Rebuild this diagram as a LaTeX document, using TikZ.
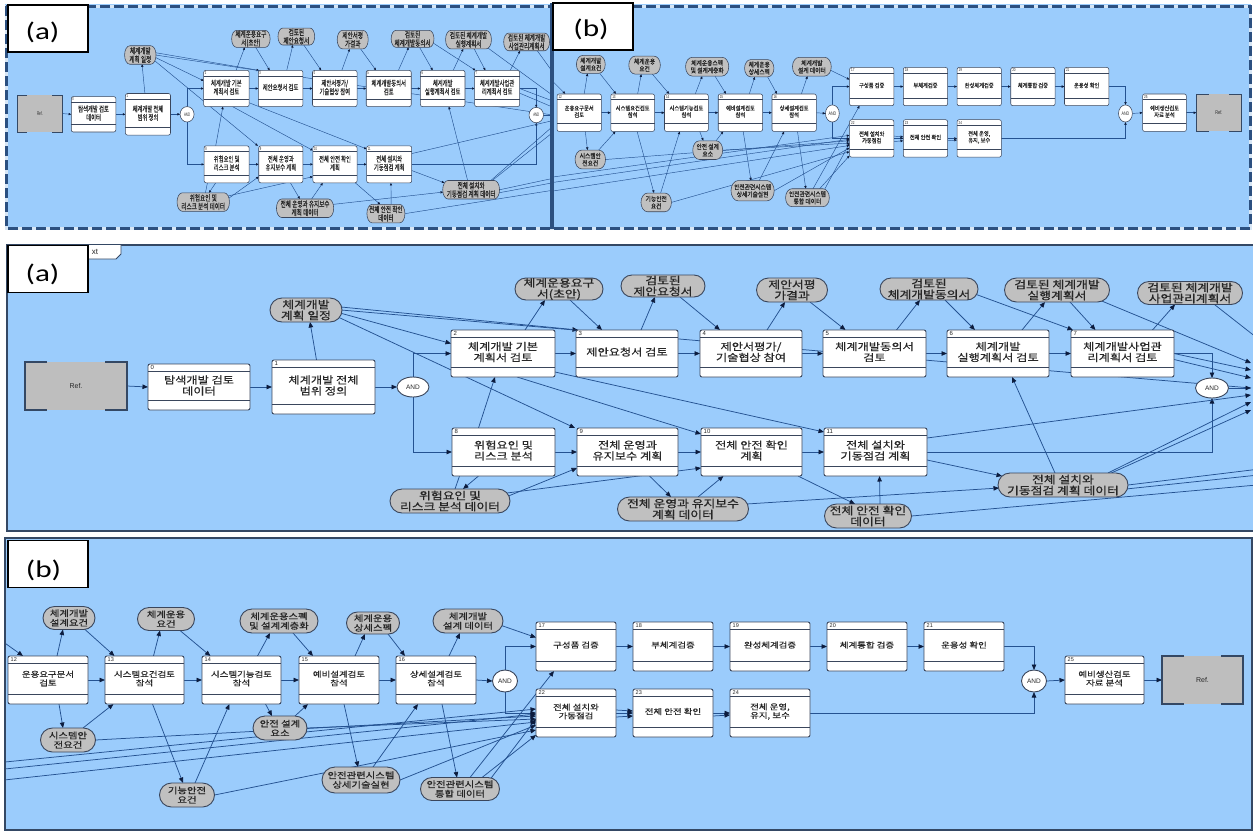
\documentclass[tikz,border=0pt]{standalone}
\usepackage{fontspec}
\usetikzlibrary{calc,shapes.misc,shapes.geometric,arrows.meta}
\newfontfamily\krfont[FakeStretch=1.22,FakeBold=0.4]{Noto Sans CJK KR}
\newfontfamily\krdata[FakeStretch=1.22,FakeBold=0.8]{Noto Sans CJK KR}
\newfontfamily\lblfont[FakeStretch=1.3]{Carlito}
\newfontfamily\tagfont{Liberation Sans}

\definecolor{panelbg}{RGB}{155,204,252}
\definecolor{framecol}{RGB}{52,72,100}
\definecolor{boxline}{RGB}{58,70,92}
\definecolor{datafill}{RGB}{192,192,192}
\definecolor{reffill}{RGB}{190,190,190}
\definecolor{wire}{RGB}{36,82,145}
\definecolor{tipcol}{RGB}{12,28,62}
\definecolor{inkcol}{RGB}{40,40,40}
\definecolor{dashdark}{RGB}{44,80,128}
\definecolor{dashlight}{RGB}{215,230,245}

\def\arrL{5.5pt}
\def\arrW{4.5pt}
\newif\ifghost

\tikzset{
  pshape/.style={rectangle, inner sep=0pt, outer sep=0pt},
  pdraw/.style={draw=boxline, fill=white, line width=0.9pt, rounded corners=2pt},
  pline/.style={draw=boxline, line width=0.7pt},
  pnum/.style={anchor=west, inner sep=0pt, text=inkcol, font=\tagfont\fontsize{6}{6}\selectfont},
  ptxt/.style={align=center, inner sep=0pt, text=inkcol, font=\krfont\fontsize{10}{11}\selectfont},
  dshape/.style={rounded rectangle, inner sep=0pt, outer sep=0pt},
  ddraw/.style={draw=boxline, fill=datafill, line width=0.9pt},
  dtxt/.style={align=center, inner sep=0pt, text=black!85, font=\krdata\fontsize{10.5}{11}\selectfont},
  ashape/.style={ellipse, inner sep=0pt, outer sep=0pt},
  adraw/.style={draw=boxline, fill=white, line width=0.9pt},
  atxt/.style={inner sep=0pt, text=inkcol, font=\tagfont\fontsize{6.5}{6.5}\selectfont},
  rshape/.style={rectangle, inner sep=0pt, outer sep=0pt},
  rline/.style={draw=framecol, line width=1.1pt},
  rtxt/.style={inner sep=0pt, text=inkcol, font=\tagfont\fontsize{7}{7}\selectfont},
  conn/.style={draw=wire, line width=0.75pt},
  arr/.style={conn, -{Triangle[length=\arrL, width=\arrW, color=tipcol]}},
  lblbox/.style={draw=black, line width=1.4pt, fill=white, minimum width=80, minimum height=47, inner sep=0pt},
  lbltxt/.style={inner sep=0pt, text=black, font=\lblfont\fontsize{24}{24}\selectfont},
  small/.style={conn/.append style={line width=0.45pt}, pdraw/.append style={line width=0.55pt},
    ddraw/.append style={line width=0.55pt}, adraw/.append style={line width=0.55pt},
    pline/.append style={line width=0.45pt}, rline/.append style={line width=0.7pt}},
}

% process box: name, x1, y1, x2, y2, number, text
\newcommand\procbox[7]{%
  \ifghost
    \node[pshape, minimum width={#4-#2}, minimum height={#5-#3}] (#1) at ({(#2+#4)/2},{(#3+#5)/2}) {};
  \else
    \node[pshape, pdraw, minimum width={#4-#2}, minimum height={#5-#3}] (#1) at ({(#2+#4)/2},{(#3+#5)/2}) {};
    \draw[pline] ($(#1.north west)+(0,7)$) -- ($(#1.north east)+(0,7)$);
    \draw[pline] ($(#1.south west)+(0,-10)$) -- ($(#1.south east)+(0,-10)$);
    \node[pnum] at ($(#1.north west)+(2.5,3.6)$) {#6};
    \node[ptxt] at ($(#1.center)+(0,-1.5)$) {#7};
  \fi}
% data object: name, cx, cy, w, h, text
\newcommand\datanode[6]{%
  \ifghost
    \node[dshape, minimum width=#4, minimum height=#5] (#1) at (#2,#3) {};
  \else
    \node[dshape, ddraw, minimum width=#4, minimum height=#5] (#1) at (#2,#3) {};
    \node[dtxt] at (#1.center) {#6};
  \fi}
% junction: name, cx, cy, w, h
\newcommand\gatenode[5]{%
  \ifghost
    \node[ashape, minimum width=#4, minimum height=#5] (#1) at (#2,#3) {};
  \else
    \node[ashape, adraw, minimum width=#4, minimum height=#5] (#1) at (#2,#3) {};
    \node[atxt] at (#1.center) {AND};
  \fi}
% referent: name, x1, y1, x2, y2
\newcommand\refnode[5]{%
  \ifghost
    \node[rshape, minimum width={#4-#2}, minimum height={#5-#3}] (#1) at ({(#2+#4)/2},{(#3+#5)/2}) {};
  \else
    \node[rshape, fill=reffill, minimum width={#4-#2}, minimum height={#5-#3}] (#1) at ({(#2+#4)/2},{(#3+#5)/2}) {};
    \draw[rline] ($(#1.north west)+(22,0)$) -- (#1.north west) -- (#1.south west) -- ($(#1.south west)+(22,0)$);
    \draw[rline] ($(#1.north east)+(-22,0)$) -- (#1.north east) -- (#1.south east) -- ($(#1.south east)+(-22,0)$);
    \node[rtxt] at (#1.center) {Ref.};
  \fi}

% ---------------- part (a) ----------------
\newcommand\nodesA{%
  \refnode{refA}{25}{362}{127}{410}
  \procbox{b0}{148}{364}{250}{410}{0}{탐색개발 검토\\데이터}
  \procbox{b1}{272}{360}{375}{414}{1}{체계개발 전체\\범위 정의}
  \gatenode{and1}{413}{387}{32}{20}
  \procbox{b2}{451}{330}{555}{377}{2}{체계개발 기본\\계획서 검토}
  \procbox{b3}{576}{330}{678}{377}{3}{제안요청서 검토}
  \procbox{b4}{700}{330}{802}{377}{4}{제안서평가/\\기술협상 참여}
  \procbox{b5}{823}{330}{926}{377}{5}{체계개발동의서\\검토}
  \procbox{b6}{947}{330}{1049}{377}{6}{체계개발\\실행계획서 검토}
  \procbox{b7}{1071}{330}{1174}{377}{7}{체계개발사업관\\리계획서 검토}
  \procbox{b8}{452}{428}{555}{476}{8}{위험요인 및\\리스크 분석}
  \procbox{b9}{577}{428}{678}{476}{9}{전체 운영과\\유지보수 계획}
  \procbox{b10}{701}{428}{802}{476}{10}{전체 안전 확인\\계획}
  \procbox{b11}{824}{428}{927}{476}{11}{전체 설치와\\기동점검 계획}
  \gatenode{and2}{1212}{388}{33}{20}
  \datanode{dPlan}{306}{310}{72}{24}{체계개발\\계획 일정}
  \datanode{dReq}{559}{289}{88}{22}{체계운용요구\\서(초안)}
  \datanode{dRfp}{663}{286}{84}{22}{검토된\\제안요청서}
  \datanode{dEval}{792}{290}{71}{24}{제안서평\\가결과}
  \datanode{dAgree}{929}{289}{98}{22}{검토된\\체계개발동의서}
  \datanode{dExec}{1057}{290}{105}{24}{검토된 체계개발\\실행계획서}
  \datanode{dMgmt}{1190}{293}{105}{23}{검토된 체계개발\\사업관리계획서}
  \datanode{dRisk}{450}{501}{120}{24}{위험요인 및\\리스크 분석 데이터}
  \datanode{dOps}{683}{509}{131}{24}{전체 운영과 유지보수\\계획 데이터}
  \datanode{dSafe}{868}{516}{87}{24}{전체 안전 확인\\데이터}
  \datanode{dInst}{1063}{485}{130}{24}{전체 설치와\\기동점검 계획 데이터}
  \coordinate (eA0) at (1275,352);
  \coordinate (eA1) at (1251,363);
  \coordinate (eA2) at (1251,370);
  \coordinate (eA3) at (1251,378);
  \coordinate (eA4) at (1251,388);
  \coordinate (eA5) at (1251,395);
  \coordinate (eA6) at (1251,402);
  \coordinate (eA7) at (1251,410);
  \coordinate (eA8) at (1268,468);
  \coordinate (eA9) at (1268,474);
  \coordinate (eA10) at (1268,484);
}
\newcommand\wiresA{%
  \draw[arr] (refA.east) -- (b0.west);
  \draw[arr] (b0.east) -- (b1.west);
  \draw[arr] (b1.east) -- (and1.west);
  \draw[arr] ($(b1.north)+(-7,0)$) -- ($(dPlan.south)+(4,0)$);
  \draw[arr] ($(dPlan.east)+(-2,3)$) -- ($(b2.west)+(0,-10)$);
  \draw[arr] ($(dPlan.east)+(-1,-3)$) -- ($(b3.north west)+(2,0)$);
  \draw[arr] ($(dPlan.east)+(-4,7)$) -- ($(b9.north west)+(-2,0)$);
  \draw[conn] ($(dPlan.east)+(-1,0)$) -- (eA4);
  \draw[arr] (and1.north) |- (b2.west);
  \draw[arr] (and1.south) |- (b8.west);
  \draw[arr] ($(b2.north)+(22,0)$) -- ($(dReq.south)+(-14,0)$);
  \draw[arr] ($(dReq.south)+(11,0)$) -- ($(b3.north)+(-25,0)$);
  \draw[arr] (b2.east) -- (b3.west);
  \draw[arr] ($(b3.north)+(14,0)$) -- ($(dRfp.south)+(-8,0)$);
  \draw[arr] ($(dRfp.south)+(17,0)$) -- ($(b4.north)+(-31,0)$);
  \draw[arr] (b3.east) -- (b4.west);
  \draw[arr] ($(b4.north)+(16,0)$) -- ($(dEval.south)+(-7,0)$);
  \draw[arr] ($(dEval.south)+(18,0)$) -- ($(b5.north)+(-29,0)$);
  \draw[arr] (b4.east) -- (b5.west);
  \draw[arr] ($(b5.north)+(22,0)$) -- ($(dAgree.south)+(-9,0)$);
  \draw[arr] ($(dAgree.south)+(16,0)$) -- ($(b6.north)+(-23,0)$);
  \draw[arr] (b5.east) -- (b6.west);
  \draw[arr] ($(b6.north)+(24,0)$) -- ($(dExec.south)+(-12,0)$);
  \draw[arr] ($(dExec.south)+(13,0)$) -- ($(b7.north)+(-27,0)$);
  \draw[arr] (b6.east) -- (b7.west);
  \draw[arr] ($(b7.north)+(30,0)$) -- ($(dMgmt.south)+(-15,0)$);
  \draw[arr] ($(dAgree.east)+(-3,5)$) -- ($(b7.north west)+(2,0)$);
  \draw[arr] ($(dExec.east)+(-15,8)$) -- (eA1);
  \draw[conn] ($(dMgmt.east)+(-30,10)$) -- (eA0);
  \draw[arr] (b7.east) -- (eA2);
  \draw[arr] ($(b7.east)+(0,6)$) -- (eA3);
  \draw[arr] (b7.east) -| (and2.north);
  \draw[arr] (and2.east) -- (eA4);
  \draw[arr] ($(b8.north)+(-25,0)$) -- ($(b2.south)+(-8,0)$);
  \draw[arr] ($(b8.south)+(-25,0)$) -- ($(dRisk.north)+(13,0)$);
  \draw[conn] ($(dRisk.north)+(5,0)$) -- ($(b8.south)+(-44,0)$);
  \draw[arr] ($(dRisk.east)+(-4,-4)$) -- ($(b9.west)+(0,16)$);
  \draw[arr] ($(dRisk.east)+(-3,-8)$) -- ($(b10.west)+(0,16)$);
  \draw[arr] (b8.east) -- (b9.west);
  \draw[arr] (b9.east) -- (b10.west);
  \draw[arr] (b10.east) -- (b11.west);
  \draw[arr] ($(b2.south)+(14,0)$) -- ($(b10.west)+(0,-18)$);
  \draw[arr] ($(b2.south east)+(0,-5)$) -- ($(b11.west)+(0,-20)$);
  \draw[arr] ($(b9.south)+(22,0)$) -- ($(dOps.north)+(-12,0)$);
  \draw[arr] ($(dOps.north)+(15,0)$) -- ($(b10.south)+(-28,0)$);
  \draw[arr] ($(dOps.east)+(-2,-5)$) -- ($(dInst.west)+(1,3)$);
  \draw[arr] ($(b10.south east)+(-4,0)$) -- ($(dSafe.north)+(-13,0)$);
  \draw[arr] ($(dSafe.north)+(12,0)$) -- ($(b11.south)+(4,0)$);
  \draw[arr] ($(b11.east)+(0,8)$) -- ($(dInst.west)+(4,-9)$);
  \draw[arr] (b11.east) -| (and2.south);
  \draw[arr] ($(b11.east)+(0,-14)$) -- (eA5);
  \draw[arr] ($(dInst.north)+(-8,0)$) -- ($(b6.south)+(14,0)$);
  \draw[arr] ($(dInst.north)+(45,0)$) -- (eA6);
  \draw[arr] ($(dInst.east)+(-30,-6)$) -- (eA7);
  \draw[conn] (dInst.east) -- (eA8);
  \draw[conn] ($(dInst.east)+(-2,4)$) -- (eA9);
  \draw[conn] (dSafe.east) -- (eA10);
}
\newcommand\contentA{\ghosttrue\nodesA\wiresA\ghostfalse\nodesA}

% ---------------- part (b) ----------------
\newcommand\nodesB{%
  \procbox{b12}{8}{656}{88}{704}{12}{운용요구문서\\검토}
  \procbox{b13}{105}{656}{184}{704}{13}{시스템요건검토\\참석}
  \procbox{b14}{202}{656}{281}{704}{14}{시스템기능검토\\참석}
  \procbox{b15}{299}{656}{379}{704}{15}{예비설계검토\\참석}
  \procbox{b16}{396}{656}{476}{704}{16}{상세설계검토\\참석}
  \gatenode{andB1}{505}{681}{25}{22}
  \procbox{b17}{536}{622}{616}{671}{17}{구성품 검증}
  \procbox{b18}{633}{622}{713}{671}{18}{부체계검증}
  \procbox{b19}{730}{622}{810}{671}{19}{완성체계검증}
  \procbox{b20}{827}{622}{907}{671}{20}{체계통합 검증}
  \procbox{b21}{924}{622}{1004}{671}{21}{운용성 확인}
  \procbox{b22}{536}{689}{616}{737}{22}{전체 설치와\\가동점검}
  \procbox{b23}{633}{689}{713}{737}{23}{전체 안전 확인}
  \procbox{b24}{730}{689}{810}{737}{24}{전체 운영,\\유지, 보수}
  \gatenode{andB2}{1034}{681}{25}{22}
  \procbox{b25}{1065}{656}{1144}{704}{25}{예비생산검토\\자료 분석}
  \refnode{refB}{1162}{656}{1243}{704}
  \datanode{dDreq}{69}{618}{52}{23}{체계개발\\설계요건}
  \datanode{dOreq}{166}{619}{57}{23}{체계운용\\요건}
  \datanode{dSpec}{279}{621}{78}{24}{체계운용스펙\\및 설계계층화}
  \datanode{dDetail}{373}{623}{53}{22}{체계운용\\상세스펙}
  \datanode{dDesign}{468}{621}{70}{24}{체계개발\\설계 데이터}
  \datanode{dSreq}{68}{740}{55}{24}{시스템안\\전요건}
  \datanode{dSdes}{280}{728}{54}{24}{안전 설계\\요소}
  \datanode{dFunc}{187}{795}{55}{24}{기능안전\\요건}
  \datanode{dSys}{361}{780}{78}{26}{안전관련시스템\\상세기술실현}
  \datanode{dInteg}{460}{789}{79}{23}{안전관련시스템\\통합 데이터}
  \coordinate (sB1) at (-5,636);
  \coordinate (sB2) at (-5,763);
  \coordinate (sB3) at (-5,770);
  \coordinate (sB4) at (-5,781);
}
\newcommand\wiresB{%
  \draw[arr] (sB1) -- ($(b12.north west)+(15,0)$);
  \draw[arr] ($(b12.north)+(9,0)$) -- ($(dDreq.south)+(-6,0)$);
  \draw[arr] ($(dDreq.south)+(16,0)$) -- ($(b13.north)+(-30,0)$);
  \draw[arr] (b12.east) -- (b13.west);
  \draw[arr] ($(b13.north)+(9,0)$) -- ($(dOreq.south)+(-6,0)$);
  \draw[arr] ($(dOreq.south)+(14,0)$) -- ($(b14.north)+(-31,0)$);
  \draw[arr] (b13.east) -- (b14.west);
  \draw[arr] ($(b14.north)+(16,0)$) -- ($(dSpec.south)+(-9,0)$);
  \draw[arr] ($(dSpec.south)+(14,0)$) -- ($(b15.north)+(-26,0)$);
  \draw[arr] (b14.east) -- (b15.west);
  \draw[arr] ($(b15.north)+(16,0)$) -- ($(dDetail.south)+(-8,0)$);
  \draw[arr] ($(dDetail.south)+(15,0)$) -- ($(b16.north)+(-31,0)$);
  \draw[arr] (b15.east) -- (b16.west);
  \draw[arr] ($(b16.north)+(13,0)$) -- ($(dDesign.south)+(-8,0)$);
  \draw[arr] ($(dDesign.east)+(-3,4)$) -- ($(b17.west)+(0,-9)$);
  \draw[arr] (b16.east) -- (andB1.west);
  \draw[arr] (andB1.north) |- (b17.west);
  \draw[arr] (andB1.south) |- (b22.west);
  \draw[arr] ($(b12.south)+(11,0)$) -- ($(dSreq.north)+(-5,0)$);
  \draw[arr] ($(dSreq.north)+(15,0)$) -- ($(b13.south)+(-31,0)$);
  \draw[arr] (dSreq.east) -- ($(b22.west)+(0,3)$);
  \draw[arr] ($(b13.south)+(8,0)$) -- ($(dFunc.north)+(-4,0)$);
  \draw[arr] ($(dFunc.north)+(8,0)$) -- ($(b14.south)+(-12,0)$);
  \draw[arr] (dFunc.east) -- ($(b22.south west)+(0,-7)$);
  \draw[arr] ($(b14.south)+(24,0)$) -- ($(dSdes.north)+(-8,0)$);
  \draw[arr] ($(dSdes.north)+(15,0)$) -- ($(b15.south)+(-31,0)$);
  \draw[arr] (dSdes.east) -- ($(b22.west)+(0,6)$);
  \draw[arr] ($(b15.south)+(5,0)$) -- ($(dSys.north)+(-3,0)$);
  \draw[arr] ($(dSys.north)+(12,0)$) -- ($(b16.south)+(-18,0)$);
  \draw[arr] (dSys.east) -- ($(b22.south west)+(0,-12)$);
  \draw[arr] ($(b16.south)+(6,0)$) -- ($(dInteg.north)+(-3,0)$);
  \draw[arr] ($(dInteg.north)+(10,0)$) -- ($(b17.south)+(-22,0)$);
  \draw[arr] ($(dInteg.north)+(22,0)$) -- ($(b22.south west)+(0,-2)$);
  \draw[arr] ($(dInteg.north)+(30,2)$) -- ($(b22.south west)+(0,-18)$);
  \draw[arr] (sB2) -- ($(b22.west)+(0,-4)$);
  \draw[arr] (sB3) -- ($(b22.west)+(0,1)$);
  \draw[arr] (sB4) -- ($(b22.west)+(0,9)$);
  \draw[arr] (b17.east) -- (b18.west);
  \draw[arr] (b18.east) -- (b19.west);
  \draw[arr] (b19.east) -- (b20.west);
  \draw[arr] (b20.east) -- (b21.west);
  \draw[arr] (b21.east) -| (andB2.north);
  \draw[arr] ($(b22.east)+(0,-3)$) -- ($(b23.west)+(0,-2)$);
  \draw[arr] (b22.east) -- (b23.west);
  \draw[arr] ($(b22.east)+(0,4)$) -- ($(b23.west)+(0,3)$);
  \draw[arr] (b23.east) -- (b24.west);
  \draw[arr] ($(b23.east)+(0,3)$) -- ($(b24.west)+(0,2)$);
  \draw[arr] (b24.east) -| (andB2.south);
  \draw[arr] (andB2.east) -- (b25.west);
  \draw[arr] (b25.east) -- (refB.west);
}
\newcommand\contentB{%
  \begin{scope}[ptxt/.append style={font=\krfont\fontsize{7.75}{8.6}\selectfont},
                dtxt/.append style={font=\krdata\fontsize{8.5}{9.4}\selectfont},
                pnum/.append style={font=\tagfont\fontsize{5.5}{5.5}\selectfont}]
    \ghosttrue\nodesB\wiresB\ghostfalse\nodesB
  \end{scope}}

\begin{document}
\begin{tikzpicture}[x=1pt,y=-1pt]
\useasboundingbox (0,0) rectangle (1253,833);
\fill[white] (0,0) rectangle (1253,833);

% ===== overview strip =====
\fill[panelbg] (5,4) rectangle (1251,229);
\begin{scope}
  \clip (8,6) rectangle (551,227);
  \begin{scope}[shift={(6.6,-183.7)}, xscale=0.437, yscale=0.77, transform shape, name prefix=oa-, small]
    \def\arrL{2.6pt}\def\arrW{2.2pt}
    \contentA
  \end{scope}
\end{scope}
\begin{scope}
  \clip (553,6) rectangle (1249,227);
  \begin{scope}[shift={(552.6,-417.7)}, xscale=0.554, yscale=0.78, transform shape, name prefix=ob-, small]
    \def\arrL{2.8pt}\def\arrW{2.3pt}
    \contentB
  \end{scope}
\end{scope}
\draw[dashlight, line width=3pt] (6,6) rectangle (1250,228);
\draw[dashdark, line width=3pt, dash pattern=on 10pt off 4pt] (6,6) rectangle (1250,228);
\draw[dashdark, line width=3.2pt] (552,3) -- (552,229);
\node[lblbox] (ovA) at (48,28.5) {};
\node[lbltxt] (ovAt) at (42.5,32) {(a)};
\node[lblbox] (ovB) at (593,26.5) {};
\node[lbltxt] (ovBt) at (591,29) {(b)};

% ===== panel (a) =====
\fill[panelbg] (7,245) rectangle (1253,531);
\begin{scope}
  \clip (7,245) rectangle (1253,531);
  \begin{scope}[name prefix=ma-]
    \contentA
  \end{scope}
\end{scope}
\draw[framecol, line width=1.6pt] (1260,245) -- (7,245) -- (7,531) -- (1260,531);
\filldraw[draw=framecol, fill=white, line width=0.8pt] (60,245) -- (60,259) -- (116,259) -- (121,254) -- (121,245);
\node[inner sep=0pt, text=inkcol, font=\tagfont\fontsize{8}{8}\selectfont] (tabA) at (95,252) {xt};
\node[lblbox] (lbA) at (48,269) {};
\node[lbltxt] (lbAt) at (42.5,274) {(a)};

% ===== panel (b) =====
\fill[panelbg] (5,538) rectangle (1252,830);
\begin{scope}
  \clip (5,538) rectangle (1252,830);
  \begin{scope}[name prefix=mb-]
    \contentB
  \end{scope}
\end{scope}
\draw[framecol, line width=1.6pt] (5,538) rectangle (1252,830);
\node[lblbox] (lbB) at (48,564) {};
\node[lbltxt] (lbBt) at (43.5,570) {(b)};
\end{tikzpicture}
\end{document}
